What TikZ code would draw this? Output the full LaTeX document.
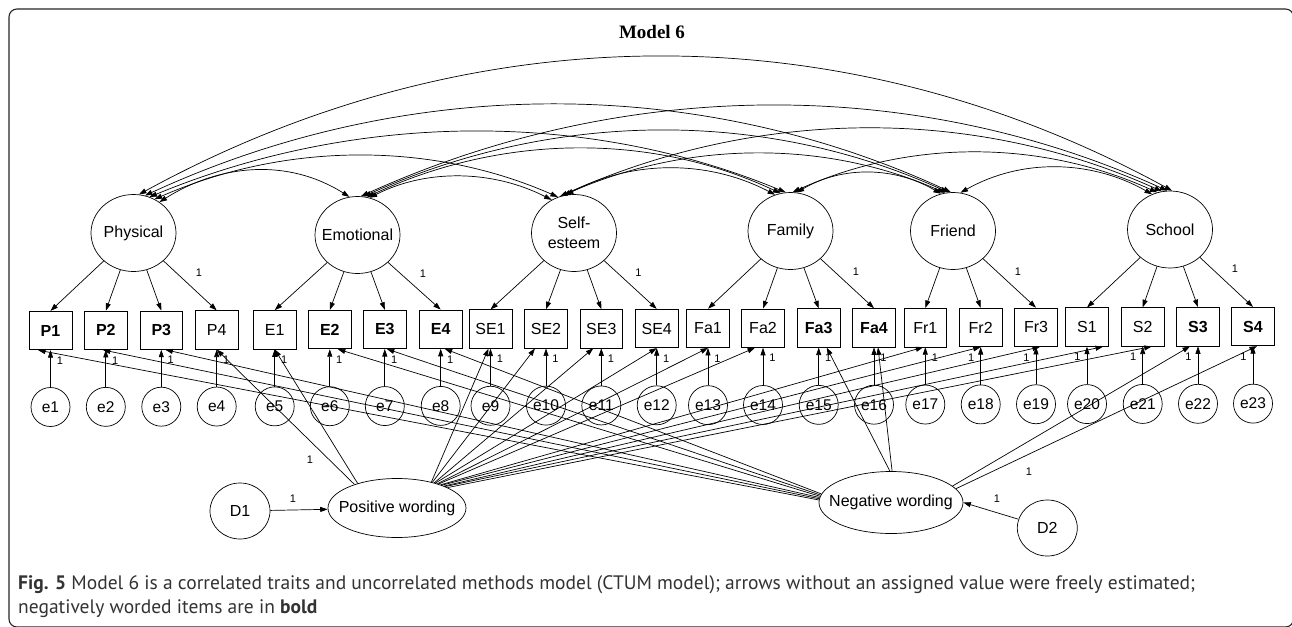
\documentclass[tikz,border=0pt]{standalone}
\usepackage{fontspec}
\setmainfont{Liberation Sans}
\newfontfamily\titlefont{Liberation Serif}
\newfontfamily\capfont{PT Sans}
\usetikzlibrary{arrows.meta,shapes.geometric,calc}
\begin{document}
\begin{tikzpicture}[x=1pt,y=-1pt,
  >={Triangle[length=7.5pt,width=5pt]},
  lat/.style={ellipse,draw,line width=0.7pt,minimum width=85pt,minimum height=77pt,inner sep=0pt,font=\fontsize{16}{20}\selectfont},
  itemn/.style={rectangle,draw,line width=0.7pt,minimum width=42.7pt,minimum height=38.5pt,inner sep=0pt,font=\fontsize{16}{18}\selectfont},
  itemb/.style={itemn,font=\fontsize{16}{18}\selectfont\bfseries},
  err/.style={circle,draw,line width=0.7pt,minimum size=39pt,inner sep=0pt,font=\fontsize{15.5}{18}\selectfont},
  meth/.style={ellipse,draw,line width=0.7pt,inner sep=0pt,font=\fontsize{16}{18}\selectfont},
  dist/.style={ellipse,draw,line width=0.7pt,minimum width=60pt,minimum height=56pt,inner sep=0pt,font=\fontsize{16}{18}\selectfont},
  one/.style={font=\fontsize{11}{12}\selectfont,inner sep=0pt},
  conn/.style={->,line width=0.7pt},
  cov/.style={<->,line width=0.7pt},
  capt/.style={anchor=base west,inner sep=0pt,text=black!80,font=\capfont\fontsize{19.5}{22}\selectfont}
]
\fill[white] (0,0) rectangle (1292,626);
\useasboundingbox (0,0) rectangle (1292,626);
\draw[line width=1.1pt,black!85,rounded corners=8pt] (9,9) rectangle (1293.5,627);

\node[font=\titlefont\bfseries\fontsize{19}{22}\selectfont,anchor=base,inner sep=0pt] (title) at (652,38) {Model 6};

% latent factors
\node[lat] (Phy) at (133.5,233) {\makebox[0pt]{Physical}};
\node[lat] (Emo) at (357.5,235) {\makebox[0pt]{Emotional}};
\node[lat,align=center,font=\fontsize{16}{20}\selectfont] (SE) at (574,233) {Self-\\esteem};
\node[lat] (Fam) at (790.5,231) {\makebox[0pt]{Family}};
\node[lat] (Fri) at (953,231) {\makebox[0pt]{Friend}};
\node[lat] (Sch) at (1170,229.5) {\makebox[0pt]{School}};

% items and errors
\foreach \n/\x/\s [count=\i] in {P1/50.5/itemb, P2/105.8/itemb, P3/161.3/itemb, P4/216.7/itemn, E1/274.7/itemn, E2/329.8/itemb, E3/384.8/itemb, E4/440.7/itemb, SE1/490.5/itemn, SE2/546/itemn, SE3/601.3/itemn, SE4/656.7/itemn, Fa1/708/itemn, Fa2/763/itemn, Fa3/818.7/itemb, Fa4/874/itemb, Fr1/925.3/itemn, Fr2/980.7/itemn, Fr3/1036/itemn, S1/1087/itemn, S2/1142.7/itemn, S3/1198/itemb, S4/1253/itemb}{
  \pgfmathsetmacro\yb{330.5-(\x-50)*0.0033}
  \pgfmathsetmacro\ye{407-(\x-50)*0.0028}
  \pgfmathsetmacro\lx{\i<18 ? 9.5 : -9.5}
  \node[\s] (\n) at (\x,\yb) {\n};
  \node[err] (e\i) at (\x,\ye) {e\i};
  \draw[conn] (e\i) -- (\n);
  \node[one] at (\x+\lx,\yb+30) {1};
}

% loadings
\foreach \t in {P1,P2,P3,P4} \draw[conn] (Phy) -- (\t.north);
\foreach \t in {E1,E2,E3,E4} \draw[conn] (Emo) -- (\t.north);
\foreach \t in {SE1,SE2,SE3,SE4} \draw[conn] (SE) -- (\t.north);
\foreach \t in {Fa1,Fa2,Fa3,Fa4} \draw[conn] (Fam) -- (\t.north);
\foreach \t in {Fr1,Fr2,Fr3} \draw[conn] (Fri) -- (\t.north);
\foreach \t in {S1,S2,S3,S4} \draw[conn] (Sch) -- (\t.north);
\node[one] at (199,273) {1};
\node[one] at (423,274) {1};
\node[one] at (638.5,273) {1};
\node[one] at (856,272) {1};
\node[one] at (1018,272) {1};
\node[one] at (1235,269) {1};

% covariances
\draw[cov] (Phy.50) .. controls +(61,-38.5) and +(-61,-38.5) .. (Emo.102);
\draw[cov] (Phy.58) .. controls +(129,-56.5) and +(-129,-56.5) .. (SE.114);
\draw[cov] (Phy.66) .. controls +(203,-84) and +(-203,-84) .. (Fam.97);
\draw[cov] (Phy.73) .. controls +(258,-119) and +(-258,-119) .. (Fri.93);
\draw[cov] (Phy.82) .. controls +(331,-181) and +(-331,-181) .. (Sch.87);
\draw[cov] (Emo.72) .. controls +(58,-29.5) and +(-58,-29.5) .. (SE.124);
\draw[cov] (Emo.76) .. controls +(132,-62) and +(-132,-62) .. (Fam.105);
\draw[cov] (Emo.81) .. controls +(187,-85) and +(-187,-85) .. (Fri.97);
\draw[cov] (Emo.85) .. controls +(258,-117) and +(-258,-117) .. (Sch.94);
\draw[cov] (SE.102) .. controls +(67,-35) and +(-67,-35) .. (Fam.113);
\draw[cov] (SE.106) .. controls +(122,-54) and +(-122,-54) .. (Fri.102);
\draw[cov] (SE.111) .. controls +(193,-87) and +(-193,-87) .. (Sch.102);
\draw[cov] (Fam.81) .. controls +(46,-27) and +(-46,-27) .. (Fri.108);
\draw[cov] (Fam.87) .. controls +(117,-53) and +(-117,-53) .. (Sch.109);
\draw[cov] (Fri.79) .. controls +(61,-34.5) and +(-61,-34.5) .. (Sch.117);

% method factors
\node[meth,minimum width=138pt,minimum height=59pt] (Pos) at (397,508) {\makebox[0pt]{Positive wording}};
\node[meth,minimum width=144pt,minimum height=62pt] (Neg) at (891,502.5) {\makebox[0pt]{Negative wording}};
\node[dist] (D1) at (240,511) {D1};
\node[dist] (D2) at (1047.3,528) {D2};
\draw[conn] (D1) -- (Pos);
\draw[conn] (D2) -- (Neg.east);
\node[one] at (293,499) {1};
\node[one] at (997,499) {1};

\draw[conn] (Pos.151) -- (P4.south);
\draw[conn] (Pos.148) -- (E1.south);
\foreach \a/\t/\s in {37/SE1/-2, 36/SE2/-11, 34/SE3/-8, 33/SE4/0, 31/Fa1/0, 30/Fa2/-8, 28/Fr1/-2, 27/Fr2/0, 25/Fr3/4, 24/S1/16, 22/S2/9}
  \draw[conn] (Pos.\a) -- ([xshift=\s pt]\t.south);
\node[one] at (310,460) {1};

\foreach \a/\t/\s in {178/P1/-12.5, 177/P2/-3, 176/P3/4, 175/E2/8, 174/E3/2, 173/E4/4, 92/Fa3/8, 88/Fa4/4, 15/S3/-8, 12/S4/4}
  \draw[conn] (Neg.\a) -- ([xshift=\s pt]\t.south);
\node[one] at (1029,472) {1};

% caption
\node[capt] (cap1) at (18,589) {\textbf{Fig. 5} Model 6 is a correlated traits and uncorrelated methods model (CTUM model); arrows without an assigned value were freely estimated;};
\node[capt] (cap2) at (18,613) {negatively worded items are in \textbf{bold}};
\end{tikzpicture}
\end{document}
